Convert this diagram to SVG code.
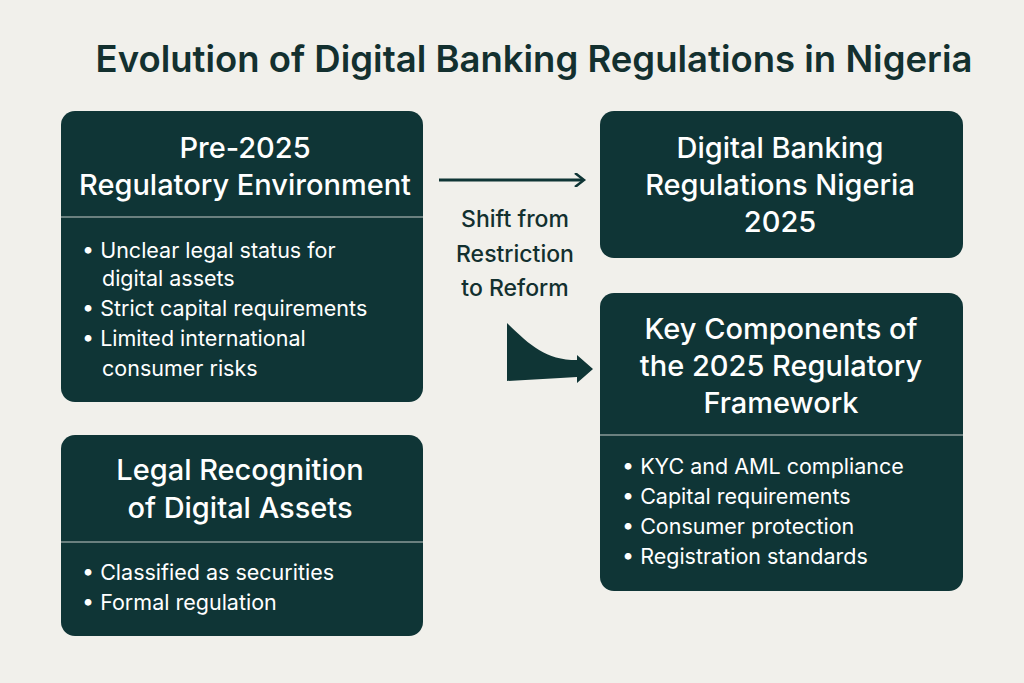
<svg xmlns="http://www.w3.org/2000/svg" width="1024" height="683" viewBox="0 0 1024 683">
<defs>
<marker id="ah" markerWidth="14" markerHeight="14" refX="10" refY="7" orient="auto" markerUnits="userSpaceOnUse" viewBox="0 0 14 14"><path d="M2,0 L11,7 L2,14" fill="none" stroke="#0f3535" stroke-width="2.5"/></marker>
<style>
.box{fill:#0f3536}
.div{stroke:#8a9a98;stroke-width:1.5}
.h{font-family:Inter,"Noto Sans",sans-serif;font-size:29px;fill:#fff;text-anchor:middle;font-weight:500}
.b{font-family:Inter,"Noto Sans",sans-serif;font-size:21.5px;fill:#fff}
.t{font-family:Inter,"Noto Sans",sans-serif;font-size:36.5px;fill:#13302f;font-weight:600;text-anchor:middle}
.l{font-family:Inter,"Noto Sans",sans-serif;font-size:23px;fill:#13302f;text-anchor:middle;font-weight:500}
</style>
</defs>
<rect width="1024" height="683" fill="#f1f0eb"/>
<text class="t" x="534" y="72">Evolution of Digital Banking Regulations in Nigeria</text>
<g id="pre2025">
<rect class="box" x="61" y="111" width="362" height="291" rx="14"/>
<line class="div" x1="61" y1="217" x2="423" y2="217"/>
<text class="h" x="245" y="158">Pre-2025</text>
<text class="h" x="245" y="195">Regulatory Environment</text>
<text class="b" x="82" y="258">•  Unclear legal status for</text>
<text class="b" x="102" y="286">digital assets</text>
<text class="b" x="82" y="316">•  Strict capital requirements</text>
<text class="b" x="82" y="346">•  Limited international</text>
<text class="b" x="102" y="376">consumer risks</text>
</g>
<g id="legal">
<rect class="box" x="61" y="435" width="362" height="201" rx="14"/>
<line class="div" x1="61" y1="542" x2="423" y2="542"/>
<text class="h" x="240" y="480">Legal Recognition</text>
<text class="h" x="240" y="518">of Digital Assets</text>
<text class="b" x="82" y="580">•  Classified as securities</text>
<text class="b" x="82" y="610">•  Formal regulation</text>
</g>
<g id="dbr2025">
<rect class="box" x="600" y="111" width="363" height="147" rx="14"/>
<text class="h" x="780" y="158">Digital Banking</text>
<text class="h" x="780" y="195">Regulations Nigeria</text>
<text class="h" x="780" y="232">2025</text>
</g>
<g id="keycomp">
<rect class="box" x="600" y="293" width="363" height="298" rx="14"/>
<line class="div" x1="600" y1="435" x2="963" y2="435"/>
<text class="h" x="781" y="339">Key Components of</text>
<text class="h" x="781" y="376">the 2025 Regulatory</text>
<text class="h" x="781" y="413">Framework</text>
<text class="b" x="622" y="474">•  KYC and AML compliance</text>
<text class="b" x="622" y="504">•  Capital requirements</text>
<text class="b" x="622" y="534">•  Consumer protection</text>
<text class="b" x="622" y="564">•  Registration standards</text>
</g>
<g id="connectors">
<line x1="439" y1="180" x2="583" y2="180" stroke="#0f3535" stroke-width="3" marker-end="url(#ah)"/>
<text class="l" x="515" y="227">Shift from</text>
<text class="l" x="515" y="262">Restriction</text>
<text class="l" x="515" y="296">to Reform</text>
<path d="M507,323 C530,345 545,360 577,360 L577,355 L593,369 L577,383 L577,377 C555,378 530,380 507,381 Z" fill="#0f3535"/>
</g>
</svg>
